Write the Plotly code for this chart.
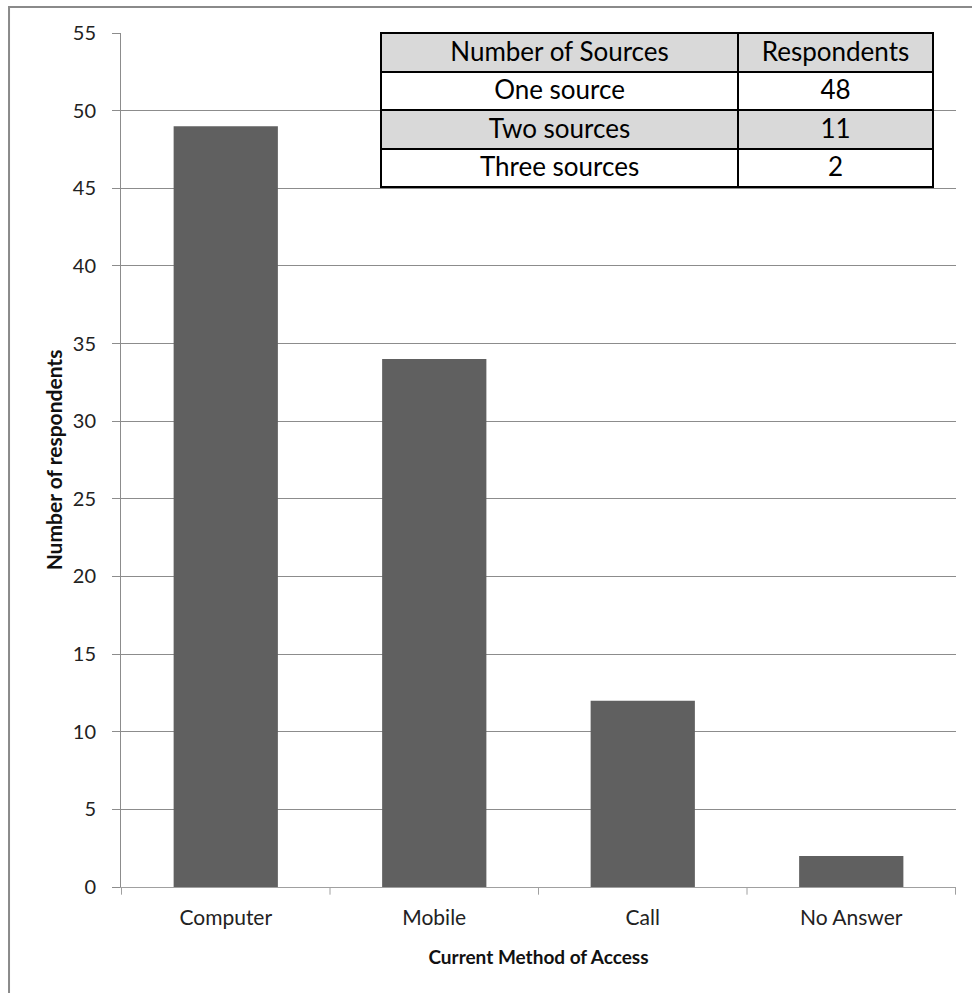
import plotly.graph_objects as go

categories = ["Computer", "Mobile", "Call", "No Answer"]
respondents = [49, 34, 12, 2]

table_header = ["Number of Sources", "Respondents"]
sources = ["One source", "Two sources", "Three sources"]
source_counts = [48, 11, 2]

FONT = "Lato"

fig = go.Figure()
fig.add_trace(go.Bar(
    x=categories, y=respondents,
    marker=dict(color="#606060", line=dict(width=0)),
    width=0.5,
))

fig.add_trace(go.Table(
    domain=dict(x=[0.3114, 0.9725], y=[0.815, 1.0]),
    columnwidth=[357, 195],
    header=dict(
        values=table_header,
        fill_color="#d9d9d9",
        line=dict(color="black", width=2),
        align="center",
        height=38.5,
        font=dict(family=FONT, size=26, color="black"),
    ),
    cells=dict(
        values=[sources, source_counts],
        fill_color=[["white", "#d9d9d9", "white"]] * 2,
        line=dict(color="black", width=2),
        align="center",
        height=38.5,
        font=dict(family=FONT, size=26, color="black"),
    ),
))

fig.update_layout(
    width=972, height=993,
    margin=dict(l=121, r=16, t=33, b=106),
    plot_bgcolor="white", paper_bgcolor="white",
    showlegend=False,
    font=dict(family=FONT, color="#222"),
    xaxis=dict(
        showgrid=False, showline=True, linecolor="#a0a0a0", linewidth=1,
        ticks="outside", ticklen=0, ticklabelstandoff=12,
        tickfont=dict(size=21, color="#222"),
        title=dict(text="<b>Current Method of Access</b>", font=dict(size=19, color="#111"), standoff=22),
    ),
    yaxis=dict(
        range=[0, 55], dtick=5, tick0=0,
        showgrid=True, gridcolor="#8c8c8c", gridwidth=1,
        showline=True, linecolor="#8c8c8c", linewidth=1,
        ticks="outside", ticklen=8, tickcolor="#8c8c8c", ticklabelstandoff=12,
        tickfont=dict(size=20, color="#222"),
        zeroline=False,
        title=dict(text="<b>Number of respondents</b>", font=dict(size=21, color="#111"), standoff=4),
    ),
    shapes=[
        dict(type="rect", xref="paper", yref="paper",
             x0=-0.1341, x1=1.2, y0=-0.2, y1=1.0304,
             line=dict(color="#8a8a8a", width=2), fillcolor="rgba(0,0,0,0)", layer="below"),
    ],
)

# category boundary tick marks on the x axis
for i in range(len(categories) + 1):
    fig.add_shape(type="line", xref="x", yref="paper",
                  x0=i - 0.5, x1=i - 0.5, y0=0, y1=-0.009,
                  line=dict(color="#a0a0a0", width=1))

fig.write_html("out.html")
